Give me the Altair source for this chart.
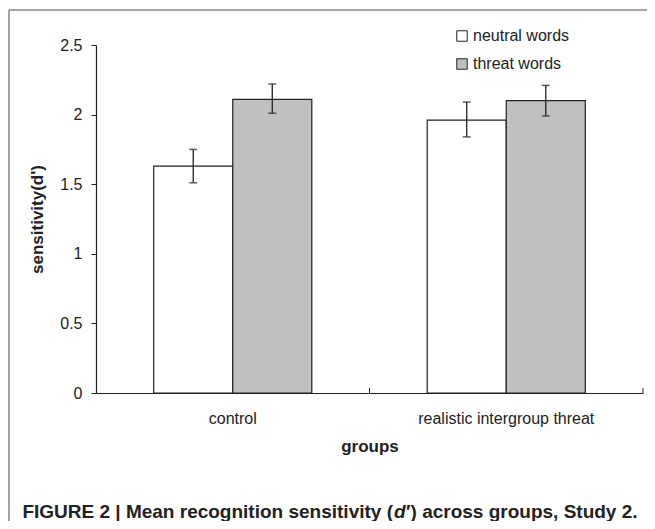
import altair as alt
import pandas as pd

groups = ["control", "realistic intergroup threat"]
conditions = ["neutral words", "threat words"]
neutral_means = [1.63, 1.96]
threat_means = [2.11, 2.10]
neutral_low = [1.51, 1.84]
neutral_high = [1.75, 2.09]
threat_low = [2.01, 1.99]
threat_high = [2.22, 2.21]
y_ticks = [0, 0.5, 1, 1.5, 2, 2.5]

rows = []
for i, g in enumerate(groups):
    rows.append(dict(group=g, condition=conditions[0], mean=neutral_means[i],
                     lo=neutral_low[i], hi=neutral_high[i]))
    rows.append(dict(group=g, condition=conditions[1], mean=threat_means[i],
                     lo=threat_low[i], hi=threat_high[i]))
df = pd.DataFrame(rows)

FONT = "Liberation Sans"
TXT = "#222222"
W, H = 547, 348

x_axis = alt.Axis(title="groups", labelAngle=0, ticks=False, domainColor="#222222",
                  domainWidth=1.2, labelFontSize=16, labelFont=FONT, labelColor=TXT,
                  labelPadding=17, titleFont=FONT, titleFontSize=17, titleFontWeight="bold",
                  titleColor=TXT, titlePadding=12, grid=False)
y_axis = alt.Axis(title="sensitivity(d')", values=y_ticks, format="~g", grid=False,
                  domainColor="#222222", domainWidth=1.2, tickColor="#222222", tickSize=5,
                  labelFontSize=16, labelFont=FONT, labelColor=TXT, labelPadding=9,
                  titleFont=FONT, titleFontSize=17, titleFontWeight="bold", titleColor=TXT,
                  titlePadding=13)


def X(**kw):
    return alt.X("group:N", sort=groups, scale=alt.Scale(paddingInner=0, paddingOuter=0),
                 axis=x_axis, **kw)


def Y(field):
    return alt.Y(field, type="quantitative", scale=alt.Scale(domain=[0, 2.5], nice=False),
                 axis=y_axis)


xo = alt.XOffset("condition:N", sort=conditions,
                 scale=alt.Scale(paddingInner=0, paddingOuter=0.73))

base = alt.Chart(df)

bars = base.mark_bar(stroke="#222222", strokeWidth=1.2).encode(
    x=X(), xOffset=xo, y=Y("mean"),
    fill=alt.Fill("condition:N", sort=conditions,
                  scale=alt.Scale(domain=conditions, range=["#ffffff", "#c0c0c0"]),
                  legend=alt.Legend(title=None, orient="none", legendX=358, legendY=-17,
                                    symbolType="square", symbolSize=110,
                                    symbolStrokeColor="#222222", symbolStrokeWidth=1,
                                    labelFontSize=16, labelFont=FONT, labelColor=TXT,
                                    rowPadding=12, labelOffset=3)),
)

err = base.mark_rule(color="#222222", strokeWidth=1.3).encode(
    x=X(), xOffset=xo, y=Y("lo"), y2="hi:Q")
cap_lo = base.mark_tick(color="#222222", thickness=1.5, size=8).encode(
    x=X(), xOffset=xo, y=Y("lo"))
cap_hi = base.mark_tick(color="#222222", thickness=1.5, size=8).encode(
    x=X(), xOffset=xo, y=Y("hi"))

gdf = pd.DataFrame({"group": groups})
band_ticks = alt.Chart(gdf).mark_rule(color="#222222", strokeWidth=1).encode(
    x=X(bandPosition=1), y=alt.value(H), y2=alt.value(H - 5))

one = pd.DataFrame({"a": [0]})
border_left = alt.Chart(one).mark_rule(color="#888888", strokeWidth=1.5).encode(
    x=alt.value(-87), y=alt.value(-35), y2=alt.value(500))
border_top = alt.Chart(one).mark_rule(color="#888888", strokeWidth=1.5).encode(
    x=alt.value(-87), x2=alt.value(600), y=alt.value(-35))

cap_y = 467
cap_x = 298
cap1 = alt.Chart(one).mark_text(font=FONT, fontSize=19, fontWeight="bold", color=TXT,
                                align="right", baseline="middle").encode(
    x=alt.value(cap_x - 1), y=alt.value(cap_y),
    text=alt.value("FIGURE 2 | Mean recognition sensitivity ("))
cap2 = alt.Chart(one).mark_text(font=FONT, fontSize=19, fontWeight="bold", fontStyle="italic",
                                color=TXT, align="left", baseline="middle").encode(
    x=alt.value(cap_x), y=alt.value(cap_y), text=alt.value("d"))
cap3 = alt.Chart(one).mark_text(font=FONT, fontSize=19, fontWeight="bold", color=TXT,
                                align="left", baseline="middle").encode(
    x=alt.value(cap_x + 12), y=alt.value(cap_y), text=alt.value("\u2032) across groups, Study 2."))

chart = alt.layer(
    bars, err, cap_lo, cap_hi, band_ticks, border_left, border_top, cap1, cap2, cap3
).properties(
    width=W, height=H,
    autosize=alt.AutoSizeParams(type="none"),
    padding={"left": 88, "top": 37, "right": 4, "bottom": 128},
    background="white",
).configure_view(stroke=None)

chart.save("out.html", embed_options={"renderer": "svg", "actions": False})
